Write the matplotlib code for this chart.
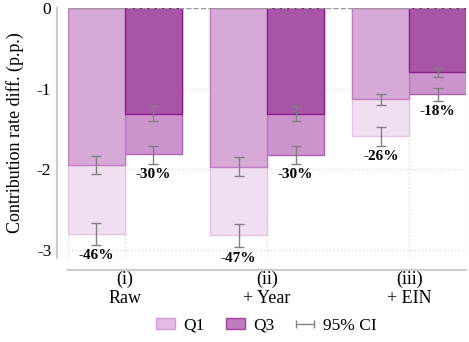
import matplotlib
matplotlib.use("Agg")
import matplotlib.pyplot as plt
import numpy as np
from matplotlib.patches import Patch

plt.rcParams["font.family"] = ["Liberation Serif", "DejaVu Serif"]

groups = ["(i)\nRaw", "(ii)\n+ Year", "(iii)\n+ EIN"]

# Q1: partial (dark layer) and total (light layer), with CI bounds
q1_part = [-1.95, -1.97, -1.13]
q1_part_lo = [-2.06, -2.08, -1.21]
q1_part_hi = [-1.84, -1.85, -1.07]
q1_total = [-2.80, -2.82, -1.59]
q1_total_lo = [-2.94, -2.97, -1.71]
q1_total_hi = [-2.67, -2.68, -1.48]
q1_pct = ["-46%", "-47%", "-26%"]

# Q3
q3_part = [-1.31, -1.31, -0.79]
q3_part_lo = [-1.40, -1.40, -0.86]
q3_part_hi = [-1.22, -1.22, -0.74]
q3_total = [-1.81, -1.82, -1.07]
q3_total_lo = [-1.93, -1.93, -1.15]
q3_total_hi = [-1.71, -1.71, -0.995]
q3_pct = ["-30%", "-30%", "-18%"]

x = np.arange(len(groups))
w = 0.4

fig = plt.figure(figsize=(4.69, 3.42), dpi=100)
ax = fig.add_axes([0.145, 0.246, 0.849, 0.731])

grid_c = "#dcdcdc"
ax.set_axisbelow(True)
ax.yaxis.grid(True, linestyle=":", color=grid_c, linewidth=1)
ax.xaxis.grid(True, linestyle=":", color=grid_c, linewidth=1)
for xe in (-0.4, 2.4):
    ax.axvline(xe, linestyle=":", color=grid_c, linewidth=1, zorder=0)

# light (total) layers
ax.bar(x - w / 2, q1_total, w, color="#f0dff0", edgecolor="#e6c3e6", linewidth=1, zorder=2)
ax.bar(x + w / 2, q3_total, w, color="#cc94cc", edgecolor="#b060b0", linewidth=1, zorder=2)
# dark (partial) layers
ax.bar(x - w / 2, q1_part, w, color="#d6a9d6", edgecolor="#c27ac2", linewidth=1, zorder=3)
ax.bar(x + w / 2, q3_part, w, color="#a855a8", edgecolor="#8a1f8a", linewidth=1, zorder=3)

ax.axhline(0, color="#999999", linestyle="--", linewidth=1, zorder=4)


def ci(xpos, val, lo, hi):
    val = np.array(val)
    err = [val - np.array(lo), np.array(hi) - val]
    ax.errorbar(xpos, val, yerr=err, fmt="none", ecolor="#808080",
                elinewidth=1, capsize=3.5, capthick=1, zorder=5)


ci(x - w / 2, q1_part, q1_part_lo, q1_part_hi)
ci(x - w / 2, q1_total, q1_total_lo, q1_total_hi)
ci(x + w / 2, q3_part, q3_part_lo, q3_part_hi)
ci(x + w / 2, q3_total, q3_total_lo, q3_total_hi)

for xi, lo, t in zip(x - w / 2, q1_total_lo, q1_pct):
    ax.annotate(t, (xi, lo), xytext=(0, -3), textcoords="offset points",
                ha="center", va="top", fontsize=11, fontweight="bold")
for xi, lo, t in zip(x + w / 2, q3_total_lo, q3_pct):
    ax.annotate(t, (xi, lo), xytext=(0, -3), textcoords="offset points",
                ha="center", va="top", fontsize=11, fontweight="bold")

ax.set_xlim(-0.4, 2.4)
ax.set_ylim(-3.1, 0)
ax.set_yticks([0, -1, -2, -3])
ax.set_yticklabels(["0", "-1", "-2", "-3"])
ax.set_xticks(x)
ax.set_xticklabels(groups)
ax.tick_params(axis="both", length=0, labelsize=12.5, pad=4)
ax.tick_params(axis="x", labelsize=13, pad=0)
ax.set_ylabel("Contribution rate diff. (p.p.)", fontsize=13, labelpad=9)

for s in ("top", "right"):
    ax.spines[s].set_visible(False)
ax.spines["left"].set_position(("outward", 8))
ax.spines["bottom"].set_position(("outward", 9))
for s in ("left", "bottom"):
    ax.spines[s].set_color("#cccccc")
    ax.spines[s].set_linewidth(1.5)

# dummy errorbar for the CI legend entry
ci_handle = ax.errorbar([np.nan], [np.nan], xerr=[[0.1]], fmt="none",
                        ecolor="#808080", elinewidth=1, capsize=3, capthick=1,
                        label="95% CI")
handles = [
    Patch(facecolor="#e2bce2", edgecolor="#d49ad4", label="Q1"),
    Patch(facecolor="#c07cc0", edgecolor="#a040a0", label="Q3"),
    ci_handle,
]
fig.legend(handles=handles, loc="center", bbox_to_anchor=(0.568, 0.048), ncol=3,
           frameon=False, fontsize=12.5, handlelength=1.1, handleheight=0.55,
           columnspacing=1.2, handletextpad=0.5)

fig.savefig("out.png", dpi=100)
